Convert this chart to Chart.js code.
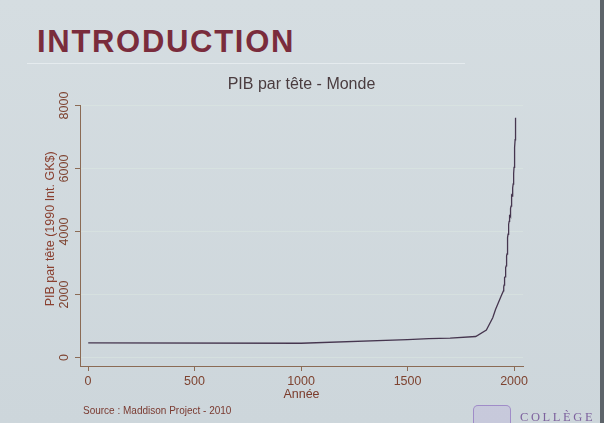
<!DOCTYPE html>
<html>
<head>
<meta charset="utf-8">
<script src="https://cdn.jsdelivr.net/npm/chart.js@4"></script>
<style>
html, body { margin: 0; padding: 0; }
body {
    width: 604px; height: 423px; overflow: hidden; position: relative;
    background: linear-gradient(180deg, #d5dde1 0%, #cdd6db 100%);
    font-family: "Liberation Sans", Arial, sans-serif;
}
#heading {
    position: absolute; left: 37px; top: 26px;
    font-size: 31px; line-height: 31px; font-weight: bold;
    color: #7a2c3c; letter-spacing: 1.7px;
}
#rule { position: absolute; left: 27px; top: 63px; width: 438px; height: 1px; background: rgba(236, 241, 244, 0.7); }
#chart { position: absolute; left: 0; top: 0; }
#source {
    position: absolute; left: 83px; top: 405.5px;
    font-size: 10px; line-height: 10px; color: #7a3a30;
}
#crest {
    position: absolute; left: 473px; top: 405px; width: 36px; height: 22px;
    border: 1.5px solid rgba(150, 125, 195, 0.8); border-bottom: none; border-radius: 5px 5px 0 0;
    background: rgba(185, 165, 220, 0.25);
}
#college {
    position: absolute; left: 520px; top: 411px;
    font-family: "Liberation Serif", "DejaVu Serif", serif;
    font-size: 12.5px; line-height: 13px; letter-spacing: 2.6px; color: #7d629e;
}
#edge { position: absolute; right: 0; top: 0; width: 4px; height: 423px; background: #5d646a; }
</style>
</head>
<body>
<div id="heading">INTRODUCTION</div>
<div id="rule"></div>
<canvas id="chart" width="604" height="423"></canvas>
<div id="source">Source : Maddison Project - 2010</div>
<div id="crest"></div>
<div id="college">COLLÈGE</div>
<div id="edge"></div>
<script>
// world GDP per capita, Maddison Project (1990 Int. GK$)
const years = [1, 1000, 1500, 1600, 1700, 1820, 1870, 1900, 1913, 1940,
    1950, 1951, 1952, 1953, 1954, 1955, 1956, 1957, 1958, 1959,
    1960, 1961, 1962, 1963, 1964, 1965, 1966, 1967, 1968, 1969,
    1970, 1971, 1972, 1973, 1974, 1975, 1976, 1977, 1978, 1979,
    1980, 1981, 1982, 1983, 1984, 1985, 1986, 1987, 1988, 1989,
    1990, 1991, 1992, 1993, 1994, 1995, 1996, 1997, 1998, 1999,
    2000, 2001, 2002, 2003, 2004, 2005, 2006, 2007, 2008];
const gdpPerCapita = [467, 453, 566, 596, 615, 666, 873, 1262, 1526, 1958,
    2113, 2177, 2234, 2299, 2335, 2429, 2495, 2537, 2557, 2635,
    2773, 2778, 2852, 2906, 3034, 3124, 3230, 3286, 3402, 3545,
    3729, 3805, 3913, 4083, 4112, 4111, 4223, 4320, 4432, 4509,
    4512, 4520, 4486, 4524, 4640, 4725, 4806, 4901, 5032, 5111,
    5150, 5127, 5147, 5167, 5279, 5385, 5508, 5657, 5697, 5831,
    6038, 6110, 6223, 6407, 6664, 6912, 7191, 7481, 7614];
const xTicks = [0, 500, 1000, 1500, 2000];
const yTicks = [0, 2000, 4000, 6000, 8000];

const fontFamily = '"Liberation Sans", Arial, sans-serif';
const axisColor = '#8b6b55';
const labelColor = '#7e4330';

const ctx = document.getElementById('chart').getContext('2d');
new Chart(ctx, {
    type: 'line',
    data: {
        datasets: [{
            data: years.map((yr, i) => ({ x: yr, y: gdpPerCapita[i] })),
            borderColor: '#46364f',
            borderWidth: 1.3,
            pointRadius: 0,
            tension: 0,
            fill: false
        }]
    },
    options: {
        responsive: false,
        animation: false,
        devicePixelRatio: 1,
        layout: { padding: { left: 0, right: 81, top: 0, bottom: 0 }, autoPadding: false },
        plugins: {
            legend: { display: false },
            tooltip: { enabled: false },
            title: {
                display: true,
                fullSize: false,
                text: 'PIB par tête - Monde',
                color: '#4a3c3f',
                font: { family: fontFamily, size: 16, weight: 'normal' },
                padding: { top: 75.4, bottom: 10.9 }
            }
        },
        scales: {
            x: {
                type: 'linear',
                min: -37.6,
                max: 2042,
                afterBuildTicks: s => { s.ticks = xTicks.map(v => ({ value: v })); },
                afterFit: s => { s.height = 57; },
                grid: { drawOnChartArea: false, tickLength: 5, tickColor: axisColor },
                border: { color: axisColor, width: 1 },
                ticks: {
                    color: labelColor, font: { family: fontFamily, size: 12.5 },
                    padding: 3, autoSkip: false, maxRotation: 0,
                    callback: v => String(v)
                },
                title: {
                    display: true, text: 'Année', color: '#7a3a2a',
                    font: { family: fontFamily, size: 12.5 },
                    padding: { top: 0, bottom: 21 }
                }
            },
            y: {
                type: 'linear',
                min: -270,
                max: 8000,
                afterBuildTicks: s => { s.ticks = yTicks.map(v => ({ value: v })); },
                afterFit: s => { s.width = 80; },
                grid: { color: 'rgba(222, 234, 226, 0.45)', tickLength: 5, tickColor: axisColor },
                border: { color: axisColor, width: 1 },
                ticks: {
                    color: labelColor, font: { family: fontFamily, size: 12.5 },
                    minRotation: 90, maxRotation: 90, crossAlign: 'center', padding: -3,
                    callback: v => String(v)
                },
                title: {
                    display: true, text: '    PIB par tête (1990 Int. GK$)', color: '#8a4030',
                    font: { family: fontFamily, size: 12.5 },
                    padding: { top: 43.5, bottom: 0 }
                }
            }
        }
    }
});
</script>
</body>
</html>
